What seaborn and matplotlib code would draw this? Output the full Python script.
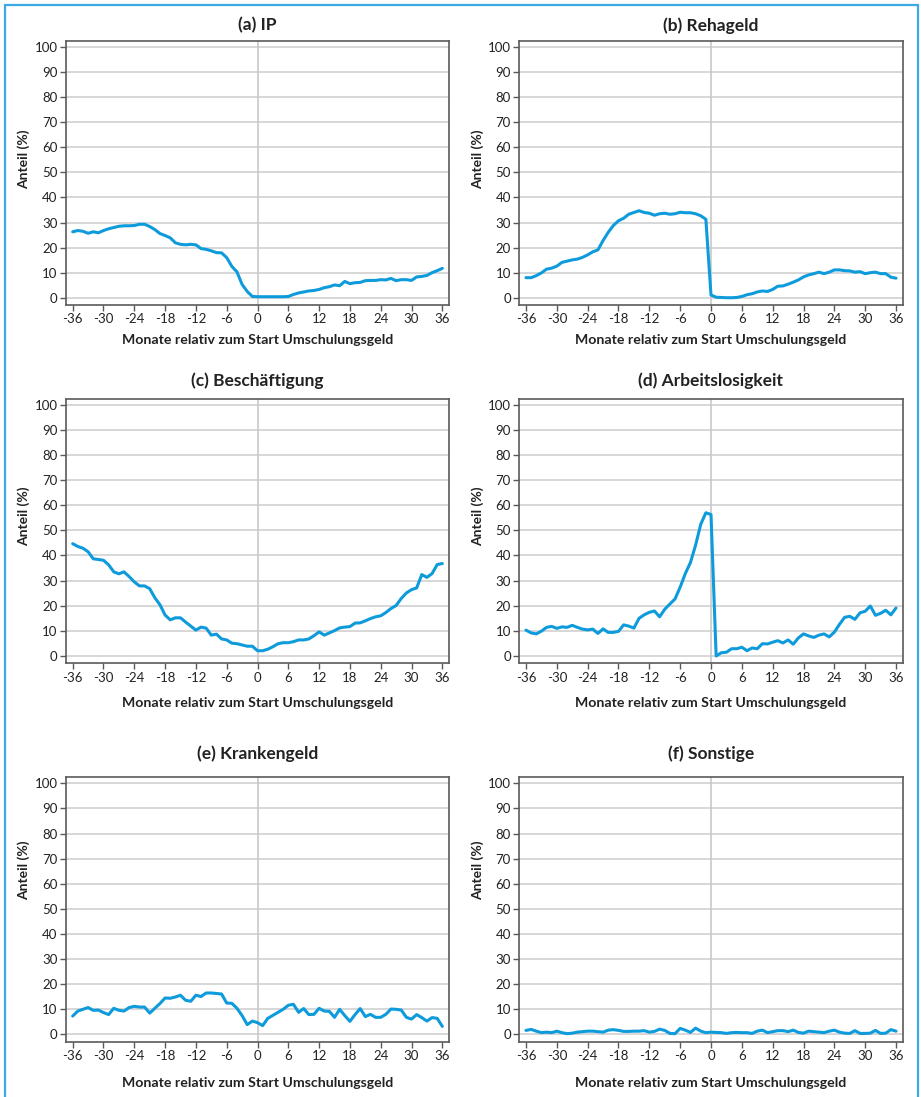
import numpy as np
import pandas as pd
import seaborn as sns
import matplotlib.pyplot as plt
from matplotlib.patches import Rectangle

# months relative to start of Umschulungsgeld
months = list(range(-36, 37))

ip = [26.3, 26.8, 26.5, 25.7, 26.3, 25.9, 26.8, 27.5, 28.0, 28.5, 28.7, 28.7, 28.8, 29.3, 29.3,
      28.4, 27.2, 25.6, 24.8, 23.9, 21.9, 21.3, 21.1, 21.3, 21.1, 19.6, 19.3, 18.7, 18.0, 17.9,
      16.0, 12.5, 10.3, 5.3, 2.5, 0.5, 0.4, 0.4, 0.4, 0.4, 0.4, 0.4, 0.5, 1.3, 1.9, 2.3, 2.7,
      2.9, 3.3, 4.0, 4.4, 5.1, 4.8, 6.5, 5.6, 6.0, 6.1, 6.8, 6.9, 6.9, 7.2, 7.1, 7.7, 6.8, 7.2,
      7.2, 6.9, 8.3, 8.5, 8.9, 10.0, 10.8, 11.7]

rehageld = [8.0, 8.0, 8.8, 9.9, 11.4, 11.8, 12.6, 14.1, 14.6, 15.1, 15.4, 16.1, 17.1, 18.3, 19.1,
            22.8, 26.1, 28.8, 30.7, 31.7, 33.3, 34.0, 34.7, 34.0, 33.7, 32.9, 33.5, 33.7, 33.3,
            33.5, 34.1, 33.9, 33.9, 33.5, 32.7, 31.3, 1.1, 0.2, 0.1, 0.0, 0.0, 0.1, 0.5, 1.2, 1.6,
            2.3, 2.7, 2.5, 3.3, 4.6, 4.7, 5.4, 6.2, 7.1, 8.3, 9.1, 9.6, 10.2, 9.6, 10.2, 11.1, 11.1,
            10.8, 10.7, 10.2, 10.4, 9.6, 10.0, 10.2, 9.6, 9.6, 8.2, 7.8]

beschaeftigung = [44.7, 43.6, 42.9, 41.5, 38.7, 38.4, 38.1, 36.3, 33.5, 32.7, 33.5, 31.6, 29.5,
                  27.9, 27.9, 26.8, 23.2, 20.4, 16.3, 14.4, 15.2, 15.2, 13.5, 11.9, 10.3, 11.5,
                  11.1, 8.3, 8.7, 6.8, 6.4, 5.1, 4.9, 4.4, 3.9, 3.9, 2.1, 2.1, 2.7, 3.7, 4.9, 5.3,
                  5.3, 5.7, 6.4, 6.4, 6.8, 8.1, 9.6, 8.3, 9.2, 10.1, 11.2, 11.5, 11.7, 13.1, 13.2,
                  14.0, 14.9, 15.6, 16.0, 17.3, 18.9, 20.1, 22.9, 25.1, 26.4, 27.1, 32.4, 31.3,
                  32.8, 36.4, 36.8]

arbeitslosigkeit = [10.3, 9.2, 8.8, 9.9, 11.4, 11.8, 11.0, 11.6, 11.4, 12.2, 11.4, 10.7, 10.4,
                    10.7, 9.0, 10.8, 9.4, 9.4, 9.8, 12.4, 11.9, 11.1, 15.0, 16.4, 17.4, 17.9,
                    15.6, 18.6, 20.7, 22.7, 27.4, 32.8, 37.2, 44.1, 52.4, 57.0, 56.3, 0.0, 1.3,
                    1.5, 2.9, 2.9, 3.5, 2.1, 3.2, 2.9, 4.9, 4.8, 5.5, 6.1, 5.2, 6.4, 4.7, 7.2, 8.8,
                    8.0, 7.4, 8.3, 8.8, 7.6, 9.5, 12.6, 15.4, 15.8, 14.6, 17.2, 17.8, 19.9, 16.2,
                    17.0, 18.2, 16.4, 19.1]

krankengeld = [7.3, 9.3, 10.0, 10.7, 9.6, 9.7, 8.7, 7.9, 10.4, 9.6, 9.3, 10.7, 11.2, 10.9, 10.9,
               8.5, 10.4, 12.3, 14.5, 14.4, 14.9, 15.6, 13.6, 13.2, 15.6, 15.1, 16.5, 16.5, 16.3,
               16.1, 12.5, 12.4, 10.4, 7.5, 3.9, 5.3, 4.7, 3.5, 6.4, 7.6, 8.8, 10.0, 11.6, 12.0,
               8.8, 10.3, 7.9, 8.0, 10.4, 9.3, 9.2, 6.8, 10.0, 7.5, 5.2, 7.9, 10.3, 7.1, 8.0, 6.8,
               6.8, 8.0, 10.1, 10.0, 9.7, 6.8, 6.1, 7.9, 6.7, 5.3, 6.7, 6.4, 3.2]

sonstige = [1.6, 2.0, 1.3, 0.7, 0.9, 0.7, 1.3, 0.7, 0.3, 0.5, 0.9, 1.1, 1.3, 1.3, 1.1, 0.9, 1.7,
            1.9, 1.6, 1.2, 1.2, 1.3, 1.3, 1.5, 0.9, 1.2, 2.1, 1.6, 0.4, 0.3, 2.4, 1.7, 0.8, 2.5,
            1.3, 0.7, 0.9, 0.8, 0.7, 0.4, 0.7, 0.8, 0.7, 0.7, 0.4, 1.3, 1.7, 0.7, 1.1, 1.5, 1.5,
            1.1, 1.7, 0.8, 0.5, 1.3, 1.1, 0.9, 0.7, 1.3, 1.7, 0.9, 0.5, 0.4, 1.5, 0.4, 0.4, 0.5,
            1.6, 0.4, 0.5, 1.9, 1.3]

titles = ['(a) IP', '(b) Rehageld', '(c) Beschäftigung', '(d) Arbeitslosigkeit',
          '(e) Krankengeld', '(f) Sonstige']
series = [ip, rehageld, beschaeftigung, arbeitslosigkeit, krankengeld, sonstige]

xticks = list(range(-36, 37, 6))
yticks = list(range(0, 101, 10))

sns.set_theme(style='white')
plt.rcParams['font.family'] = ['Lato', 'DejaVu Sans']
plt.rcParams['axes.unicode_minus'] = False

W, H = 921, 1097
fig = plt.figure(figsize=(W / 100, H / 100), dpi=100)

# light blue frame around the figure
fig.patches.append(Rectangle((5 / W, -0.02), 913 / W, 1.02 - 5 / H, transform=fig.transFigure,
                             fill=False, edgecolor='#3aa9e4', linewidth=1.6, zorder=0))

# axes boxes in pixels: (left, top, right, bottom)
cols = [(66, 449), (519.3, 902.7)]
rows = [(41, 305), (398.7, 663.3), (777.3, 1041.7)]
title_pads = [7.5, 8.8, 13.0]
xlabel_off = [35, 40, 41]
ylabel_frac = [0.551, 0.557, 0.648]

line_color = '#0e9bdb'
text_color = '#222222'

for i, (name, values) in enumerate(zip(titles, series)):
    r, c = divmod(i, 2)
    l, rr = cols[c]
    t, b = rows[r]
    ax = fig.add_axes([l / W, 1 - b / H, (rr - l) / W, (b - t) / H])

    df = pd.DataFrame({'Monat': months, 'Anteil': values})
    ax.axvline(0, color='#c8c8c8', linewidth=1.2, zorder=1)
    sns.lineplot(data=df, x='Monat', y='Anteil', ax=ax, color=line_color, linewidth=2.2, zorder=3)

    ax.set_xlim(-37.3, 37.3)
    ax.set_ylim(-2.9, 102.4)
    ax.set_xticks(xticks)
    ax.set_yticks(yticks)
    ax.grid(axis='y', color='#d4d4d4', linewidth=1.3)
    ax.grid(axis='x', visible=False)
    ax.set_axisbelow(True)
    for s in ax.spines.values():
        s.set_color('#5a5a5a')
        s.set_linewidth(1.2)
    ax.tick_params(axis='both', which='major', length=4, width=1, color='#5a5a5a',
                   labelsize=9.5, labelcolor=text_color, pad=2, bottom=True, left=True)

    ax.set_title(name, fontsize=12.5, fontweight='bold', color=text_color, pad=title_pads[r])
    ax.set_xlabel('Monate relativ zum Start Umschulungsgeld', fontsize=10.2,
                  fontweight='bold', color=text_color)
    ax.set_ylabel('Anteil (%)', fontsize=10, fontweight='bold', color=text_color)
    ax.xaxis.label.set_va('center')
    ax.xaxis.set_label_coords(0.5, -xlabel_off[r] / (b - t))
    ax.yaxis.label.set_va('center')
    ax.yaxis.set_label_coords(-42 / (rr - l), ylabel_frac[r])

fig.savefig('out.png', dpi=100)
